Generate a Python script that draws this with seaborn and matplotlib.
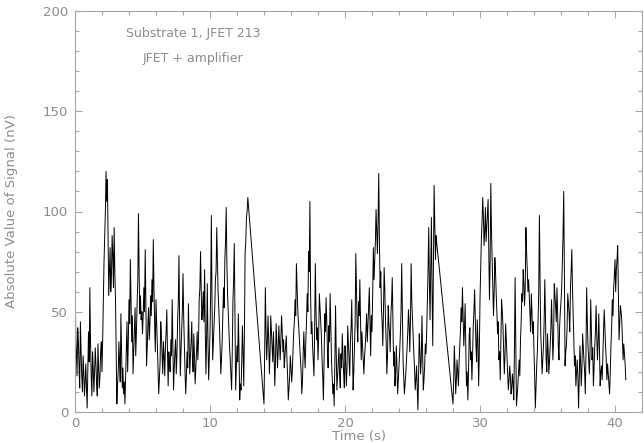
import numpy as np
import pandas as pd
import seaborn as sns
from matplotlib import pyplot as plt
from matplotlib.ticker import MultipleLocator

# three recording stretches joined by straight lines.
# sig_* are readings every 0.1 s, mid_* the readings in between (0.05 s later)
seg_start = [0.0, 14.0, 28.0]
step = 0.05

sig_a = [85, 30, 42, 22, 45, 18, 28, 8, 24, 2,
         40, 62, 18, 30, 10, 32, 14, 34, 12, 30,
         20, 55, 88, 120, 116, 58, 82, 68, 78, 92,
         56, 4, 20, 26, 49, 12, 9, 4, 33, 20,
         56, 76, 35, 19, 42, 28, 54, 99, 49, 46,
         39, 62, 81, 23, 44, 36, 58, 66, 86, 43,
         56, 33, 9, 24, 39, 19, 28, 33, 51, 13,
         24, 36, 56, 11, 30, 19, 45, 78, 18, 40,
         69, 33, 9, 30, 54, 19, 35, 26, 39, 14,
         30, 26, 56, 80, 46, 60, 71, 19, 64, 16,
         39, 98, 26, 45, 66, 92, 60, 43, 19, 35,
         62, 76, 102, 59, 40, 26, 11, 56, 84, 11,
         33, 49, 6, 11, 43, 13, 79, 97, 107]
mid_a = [40, 18, 35, 12, 30, 10, 20, 15, 12, 22,
         25, 35, 8, 22, 20, 24, 8, 22, 18, 35,
         36, 75, 100, 105, 88, 70, 60, 88, 62, 70,
         30, 14, 35, 15, 30, 22, 15, 18, 45, 35,
         44, 55, 48, 30, 52, 40, 65, 70, 58, 50,
         48, 50, 55, 32, 52, 44, 48, 55, 62, 30,
         45, 22, 16, 45, 28, 35, 18, 40, 30, 30,
         20, 28, 35, 22, 36, 28, 55, 45, 30, 50,
         48, 20, 18, 22, 35, 28, 45, 20, 28, 22,
         40, 36, 62, 60, 52, 45, 40, 38, 35, 28,
         60, 55, 35, 52, 70, 75, 52, 32, 26, 48,
         52, 85, 75, 50, 32, 18, 30, 66, 50, 22,
         25, 30, 14, 25, 30, 40, 85, 100]

sig_b = [4, 62, 26, 48, 19, 48, 33, 40, 13, 44,
         22, 43, 26, 48, 30, 22, 33, 26, 6, 18,
         22, 21, 40, 56, 74, 51, 39, 26, 9, 29,
         29, 36, 59, 80, 105, 39, 33, 18, 74, 36,
         26, 59, 46, 26, 6, 49, 57, 30, 43, 59,
         26, 9, 3, 53, 11, 25, 18, 29, 39, 19,
         33, 13, 43, 26, 35, 56, 11, 33, 79, 43,
         55, 66, 26, 33, 19, 33, 49, 43, 62, 28,
         40, 82, 76, 101, 79, 119, 62, 51, 33, 72,
         46, 19, 53, 39, 49, 67, 23, 13, 33, 9,
         23, 39, 74, 26, 9, 19, 33, 51, 30, 74,
         46, 29, 11, 23, 1, 39, 19, 48, 11, 23,
         29, 56, 92, 46, 97, 33, 113, 76, 84]
mid_b = [30, 40, 36, 35, 30, 40, 25, 28, 25, 35,
         30, 35, 36, 40, 36, 28, 38, 18, 12, 28,
         15, 30, 45, 48, 62, 45, 32, 20, 15, 40,
         22, 45, 50, 70, 60, 45, 26, 40, 52, 42,
         38, 52, 38, 18, 25, 40, 45, 22, 35, 42,
         18, 14, 25, 30, 18, 32, 12, 22, 28, 12,
         24, 22, 35, 18, 42, 32, 20, 45, 60, 35,
         48, 45, 40, 26, 28, 40, 35, 52, 45, 48,
         58, 66, 85, 90, 95, 85, 70, 45, 50, 60,
         35, 28, 44, 30, 55, 45, 30, 20, 22, 16,
         30, 50, 48, 18, 14, 25, 40, 44, 46, 55,
         38, 22, 16, 12, 18, 30, 26, 30, 16, 34,
         40, 70, 65, 72, 60, 70, 95, 88]

sig_c = [4, 33, 9, 26, 13, 33, 52, 62, 33, 54,
         13, 6, 38, 26, 16, 43, 61, 33, 46, 13,
         56, 86, 107, 83, 102, 92, 106, 56, 114, 76,
         48, 77, 59, 39, 26, 16, 56, 43, 19, 44,
         29, 11, 23, 9, 19, 6, 67, 3, 13, 26,
         36, 59, 71, 53, 92, 71, 66, 49, 59, 39,
         30, 2, 23, 46, 98, 39, 19, 33, 66, 26,
         39, 19, 33, 56, 26, 64, 53, 62, 33, 43,
         55, 76, 110, 23, 33, 59, 49, 62, 81, 49,
         23, 13, 26, 2, 33, 13, 39, 26, 9, 62,
         33, 19, 56, 26, 13, 33, 53, 26, 49, 13,
         23, 29, 51, 33, 16, 19, 9, 33, 56, 62,
         76, 71, 83, 36, 53, 46, 26, 29, 16]
mid_c = [16, 22, 16, 20, 24, 40, 45, 48, 42, 30,
         20, 20, 42, 30, 28, 50, 48, 25, 35, 30,
         70, 95, 98, 90, 85, 98, 80, 75, 90, 62,
         60, 70, 50, 45, 30, 35, 50, 30, 28, 36,
         20, 16, 18, 12, 14, 30, 35, 8, 20, 18,
         45, 55, 64, 62, 80, 60, 58, 40, 50, 45,
         18, 12, 30, 60, 65, 30, 26, 45, 48, 20,
         30, 26, 42, 40, 36, 58, 45, 50, 26, 50,
         62, 88, 70, 30, 42, 54, 40, 70, 62, 38,
         28, 20, 18, 16, 25, 22, 32, 20, 30, 45,
         26, 30, 40, 32, 22, 40, 38, 35, 30, 20,
         16, 40, 42, 26, 24, 14, 20, 42, 48, 68,
         60, 76, 60, 44, 50, 36, 34, 24]

frames = []
for t0, sig, mid in zip(seg_start, [sig_a, sig_b, sig_c], [mid_a, mid_b, mid_c]):
    vals = [v for pair in zip(sig, mid) for v in pair] + [sig[-1]]
    t = np.round(t0 + step*np.arange(len(vals)), 3)
    frames.append(pd.DataFrame({'time': t, 'signal': vals}))
df = pd.concat(frames, ignore_index=True)

sns.set_style('ticks')
grey = '#8c8c8c'
frame_grey = '#a6a6a6'
plt.rcParams['font.family'] = ['DejaVu Sans']

fig = plt.figure(figsize=(6.44, 4.43), dpi=100)
ax = fig.add_axes([75/644, 31/443, 567/644, 401/443])

sns.lineplot(data=df, x='time', y='signal', ax=ax, color='black',
             linewidth=0.7, estimator=None, sort=False)

ax.set_xlim(0, 42)
ax.set_ylim(0, 200)
ax.xaxis.set_major_locator(MultipleLocator(10))
ax.xaxis.set_minor_locator(MultipleLocator(2))
ax.yaxis.set_major_locator(MultipleLocator(50))
ax.yaxis.set_minor_locator(MultipleLocator(10))
ax.tick_params(which='both', direction='in', top=True, right=True,
               color=frame_grey, labelcolor=grey, labelsize=9.5, width=0.8)
ax.tick_params(which='major', length=5, pad=5)
ax.tick_params(axis='x', which='major', pad=3.5)
ax.tick_params(which='minor', length=3)
for s in ax.spines.values():
    s.set_color(frame_grey)
    s.set_linewidth(0.8)

ax.set_xlabel('Time (s)', color=grey, fontsize=9.5, labelpad=0)
ax.set_ylabel('Absolute Value of Signal (nV)', color=grey, fontsize=9.5, labelpad=18)

ax.text(8.75, 189, 'Substrate 1, JFET 213', color=grey, fontsize=9,
        ha='center', va='center')
ax.text(8.75, 176.5, 'JFET + amplifier', color=grey, fontsize=9,
        ha='center', va='center')

plt.savefig('out.png', dpi=100)
